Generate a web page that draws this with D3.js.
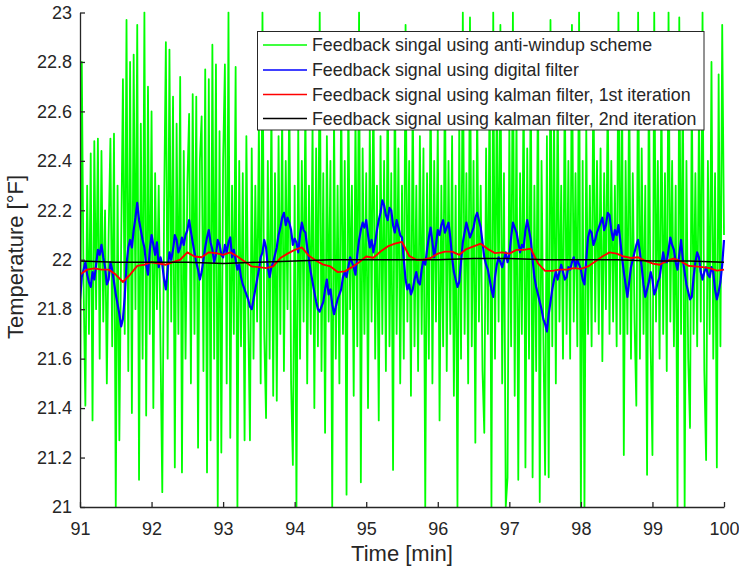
<!DOCTYPE html>
<html>
<head>
<meta charset="utf-8">
<script src="https://cdn.jsdelivr.net/npm/d3@7"></script>
<style>
  html, body { margin: 0; padding: 0; background: #fff; }
  svg { display: block; font-family: "Liberation Sans", Arial, Helvetica, sans-serif; }
</style>
</head>
<body>
<svg id="chart" width="739" height="571"></svg>
<script>
// Time axis and sampling
const tStart = 91, tEnd = 100;
const xTicks = [91, 92, 93, 94, 95, 96, 97, 98, 99, 100];
const yTicks = [21, 21.2, 21.4, 21.6, 21.8, 22, 22.2, 22.4, 22.6, 22.8, 23];
const yTickLabels = ["21", "21.2", "21.4", "21.6", "21.8", "22", "22.2", "22.4", "22.6", "22.8", "23"];

// Series names
const seriesNames = [
  "Feedback singal using anti-windup scheme",
  "Feedback signal using digital filter",
  "Feedback signal using kalman filter, 1st iteration",
  "Feedback signal using kalman filter, 2nd iteration"
];
const seriesColors = ["#00ff00", "#0000ff", "#ff0000", "#000000"];

// Anti-windup feedback, sampled every 0.025 min
const greenStep = 0.025;
const antiWindup = [
  21.24, 22.80, 21.90, 21.41, 22.30, 21.70, 22.43, 21.35, 22.48, 21.80,
  22.49, 21.60, 22.44, 21.75, 22.20, 21.50, 22.10, 22.49, 21.65, 22.51,
  21.00, 22.30, 21.27, 22.05, 22.73, 21.70, 22.97, 21.55, 22.80, 21.38,
  22.83, 21.80, 22.95, 21.11, 22.55, 21.60, 23.00, 21.37, 22.70, 21.70,
  22.60, 21.40, 22.35, 21.80, 22.30, 21.65, 21.06, 22.20, 22.88, 21.60,
  22.85, 21.75, 22.66, 21.16, 22.55, 21.70, 22.74, 21.14, 22.44, 21.60,
  22.30, 22.59, 21.50, 22.67, 21.70, 22.66, 21.24, 22.40, 22.58, 21.55,
  22.77, 21.14, 22.73, 21.27, 22.87, 21.60, 22.79, 21.00, 22.52, 21.22,
  22.40, 22.79, 21.50, 23.00, 21.28, 22.30, 21.70, 22.78, 21.00, 22.40,
  21.65, 22.35, 21.27, 22.50, 21.80, 21.27, 22.45, 21.60, 22.30, 21.75,
  22.55, 21.50, 23.00, 21.70, 21.36, 22.40, 21.60, 22.65, 21.45, 22.35,
  21.43, 22.50, 21.70, 22.60, 21.55, 22.40, 21.80, 22.70, 21.50, 21.17,
  22.30, 21.00, 22.55, 21.60, 22.40, 21.75, 22.65, 21.50, 22.30, 21.70,
  22.55, 21.40, 22.45, 21.65, 23.00, 21.55, 22.35, 21.30, 22.50, 21.75,
  22.40, 21.00, 22.60, 21.60, 22.30, 21.50, 22.70, 21.70, 22.40, 21.05,
  22.70, 21.80, 22.30, 21.45, 22.60, 21.65, 23.00, 21.10, 22.45, 21.70,
  22.35, 21.40, 22.55, 21.75, 22.75, 21.60, 22.30, 21.35, 22.50, 21.70,
  22.40, 21.55, 22.75, 21.65, 22.35, 21.15, 22.80, 21.70, 22.45, 21.50,
  22.30, 21.60, 22.95, 21.75, 22.40, 21.45, 22.70, 21.65, 22.30, 21.55,
  22.50, 21.70, 22.45, 21.00, 22.35, 21.60, 22.75, 21.50, 22.40, 21.75,
  22.55, 21.35, 22.30, 21.65, 22.80, 21.55, 22.40, 21.70, 22.50, 21.45,
  22.30, 21.00, 22.55, 21.60, 23.00, 21.70, 22.35, 21.50, 22.98, 21.65,
  22.40, 21.26, 22.65, 21.75, 22.30, 21.55, 21.30, 22.45, 21.70, 22.75,
  21.00, 23.00, 21.60, 22.70, 21.75, 22.95, 21.50, 22.35, 21.00, 21.12,
  22.55, 21.65, 23.00, 21.45, 22.60, 21.11, 22.35, 21.70, 22.75, 21.16,
  22.45, 21.60, 22.80, 21.12, 22.30, 21.55, 22.80, 21.02, 22.40, 21.70,
  21.13, 22.50, 21.12, 22.97, 21.65, 22.60, 21.50, 22.70, 21.75, 22.30,
  21.60, 22.75, 21.70, 22.40, 21.60, 22.95, 21.75, 22.35, 21.65, 23.00,
  21.00, 22.40, 21.00, 22.55, 21.70, 22.30, 21.65, 22.80, 21.75, 22.40,
  21.70, 22.45, 21.59, 22.35, 21.80, 22.70, 21.70, 22.40, 21.75, 22.30,
  21.65, 23.00, 21.70, 22.75, 21.21, 22.40, 21.70, 22.75, 21.60, 22.35,
  21.75, 21.41, 23.00, 21.60, 22.45, 21.70, 22.30, 21.13, 22.80, 21.65,
  21.21, 23.00, 21.75, 22.40, 21.60, 22.70, 21.70, 22.35, 21.55, 23.00,
  21.75, 22.40, 21.65, 22.30, 21.00, 22.98, 21.70, 22.75, 21.00, 22.40,
  21.60, 21.32, 22.70, 21.70, 22.35, 21.65, 22.60, 21.75, 23.00, 21.55,
  21.19, 22.40, 21.70, 22.80, 21.60, 22.35, 21.16, 22.75, 21.65, 22.95,
  22.10
];

// Digital filter output, sampled every 0.025 min
const blueStep = 0.025;
const digitalFilter = [
  21.84, 21.93, 21.96, 21.99, 21.94, 21.91, 21.89, 21.95, 21.92, 21.98,
  22.04, 22.02, 22.06, 22.01, 21.97, 21.90, 21.92, 21.99, 21.96, 21.91,
  21.86, 21.82, 21.78, 21.73, 21.76, 21.85, 21.98, 22.05, 22.08, 22.05,
  22.12, 22.17, 22.23, 22.16, 22.12, 22.08, 22.05, 21.98, 21.94, 22.04,
  22.10, 22.06, 22.02, 22.07, 21.97, 22.01, 21.98, 21.92, 21.88, 21.96,
  22.03, 22.00, 22.04, 22.10, 22.08, 22.03, 22.05, 22.09, 22.06, 22.10,
  22.12, 22.16, 22.115, 22.07, 22.03, 21.99, 21.96, 21.92, 21.95, 22.00,
  22.05, 22.09, 22.12, 22.07, 22.04, 21.99, 22.02, 22.08, 22.06, 22.02,
  22.01, 22.06, 22.03, 22.07, 22.09, 22.01, 22.04, 22.00, 21.96, 21.98,
  21.93, 21.90, 21.88, 21.86, 21.84, 21.81, 21.80, 21.84, 21.88, 21.92,
  21.96, 22.01, 22.03, 22.08, 22.05, 21.97, 21.93, 21.97, 21.99, 22.02,
  22.05, 22.10, 22.13, 22.17, 22.19, 22.14, 22.17, 22.15, 22.12, 22.06,
  22.085, 22.07, 22.03, 22.10, 22.15, 22.12, 22.11, 22.05, 22.00, 21.95,
  21.91, 21.87, 21.83, 21.80, 21.79, 21.81, 21.83, 21.88, 21.92, 21.86,
  21.88, 21.82, 21.78, 21.81, 21.84, 21.86, 21.88, 21.93, 21.95, 21.93,
  21.97, 22.01, 21.99, 21.97, 21.94, 22.02, 22.08, 22.12, 22.15, 22.13,
  22.16, 22.10, 22.05, 22.08, 22.03, 22.07, 22.12, 22.16, 22.19, 22.24,
  22.22, 22.18, 22.16, 22.21, 22.20, 22.14, 22.11, 22.16, 22.13, 22.10,
  22.09, 22.00, 21.92, 21.88, 21.90, 21.86, 21.88, 21.92, 21.95, 21.91,
  21.90, 21.96, 22.00, 21.98, 22.04, 22.09, 22.13, 22.07, 22.01, 22.06,
  22.12, 22.10, 22.14, 22.16, 22.11, 22.13, 22.15, 22.09, 22.01, 21.95,
  21.92, 21.89, 21.91, 21.99, 22.07, 22.11, 22.15, 22.12, 22.09, 22.11,
  22.13, 22.17, 22.19, 22.16, 22.13, 22.07, 22.01, 21.98, 21.96, 21.92,
  21.88, 21.85, 21.93, 21.98, 22.01, 21.99, 21.97, 22.00, 22.03, 21.99,
  22.02, 22.09, 22.15, 22.13, 22.11, 22.07, 22.03, 22.06, 22.05, 22.12,
  22.16, 22.12, 22.08, 22.00, 21.93, 21.89, 21.86, 21.83, 21.80, 21.76,
  21.74, 21.71, 21.78, 21.83, 21.88, 21.92, 21.95, 21.92, 21.95, 21.98,
  21.95, 21.92, 21.93, 21.97, 21.96, 21.99, 22.01, 21.97, 22.00, 21.98,
  21.96, 21.92, 21.90, 22.00, 22.09, 22.12, 22.11, 22.06, 22.08, 22.11,
  22.13, 22.15, 22.17, 22.12, 22.14, 22.19, 22.18, 22.12, 22.08, 22.12,
  22.10, 22.14, 22.08, 22.01, 21.95, 21.90, 21.85, 21.91, 21.97, 22.00,
  22.03, 22.06, 22.08, 22.03, 21.97, 21.90, 21.85, 21.88, 21.91, 21.95,
  21.92, 21.86, 21.88, 21.91, 21.93, 21.98, 22.03, 21.99, 21.99, 22.04,
  22.09, 22.06, 22.04, 21.99, 21.96, 22.02, 22.08, 22.00, 21.95, 21.90,
  21.87, 21.84, 21.85, 21.93, 21.99, 22.03, 22.01, 21.95, 21.92, 21.95,
  21.97, 21.94, 21.93, 21.97, 21.95, 21.88, 21.84, 21.87, 21.91, 21.98,
  22.08
];

// Kalman filter, first iteration, sampled every 0.1 min
const redStep = 0.1;
const kalman1 = [
  21.94, 21.96, 21.965, 21.96, 21.96, 21.94, 21.91, 21.94, 21.975, 21.98,
  21.99, 21.985, 21.98, 21.99, 22.00, 22.03, 22.013, 22.01, 22.03, 22.027,
  22.02, 22.03, 22.013, 21.993, 21.973, 21.97, 21.966, 21.973, 22.007, 22.025,
  22.04, 22.05, 22.016, 21.996, 21.98, 21.973, 21.95, 21.953, 21.97, 21.99,
  22.013, 22.008, 22.033, 22.054, 22.065, 22.072, 22.016, 22.00, 22.00, 22.007,
  22.025, 22.033, 22.033, 22.02, 22.043, 22.054, 22.065, 22.043, 22.027, 22.03,
  22.025, 22.04, 22.04, 22.045, 21.985, 21.955, 21.955, 21.96, 21.96, 21.966,
  21.963, 21.973, 21.993, 22.013, 22.03, 22.025, 22.013, 22.007, 22.01, 21.996,
  21.985, 21.98, 21.995, 22.005, 21.993, 21.976, 21.973, 21.97, 21.966, 21.956,
  21.96
];

// Kalman filter, second iteration, sampled every 0.5 min
const blackStep = 0.5;
const kalman2 = [
  21.995, 21.99, 21.99, 21.99, 21.985, 21.99, 21.995, 22.0, 22.0, 22.0,
  22.0, 22.005, 22.005, 22.0, 22.0, 22.0, 21.995, 21.995, 21.99
];

const toPoints = (vals, step) => vals.map((v, i) => ({ t: tStart + i * step, v }));
const series = [
  toPoints(antiWindup, greenStep),
  toPoints(digitalFilter, blueStep),
  toPoints(kalman1, redStep),
  toPoints(kalman2, blackStep)
];
const lineWidths = [1.8, 2.2, 1.9, 1.4];

const svg = d3.select("#chart");
const plotLeft = 80, plotRight = 724, plotTop = 12.5, plotBottom = 507;
const x = d3.scaleLinear().domain([tStart, tEnd]).range([plotLeft, plotRight]);
const y = d3.scaleLinear().domain([21, 23]).range([plotBottom, plotTop]);
const axisColor = "#262626";

svg.append("defs").append("clipPath").attr("id", "plotClip")
  .append("rect").attr("x", plotLeft).attr("y", plotTop - 1)
  .attr("width", plotRight - plotLeft + 1).attr("height", plotBottom - plotTop + 1);

const plot = svg.append("g").attr("clip-path", "url(#plotClip)");
const line = d3.line().x(d => x(d.t)).y(d => y(d.v));
series.forEach((s, i) => {
  plot.append("path")
    .datum(s)
    .attr("d", line)
    .attr("fill", "none")
    .attr("stroke", seriesColors[i])
    .attr("stroke-width", lineWidths[i])
    .attr("stroke-linejoin", "round");
});

// Axes: inward ticks, left and bottom only
const yAxis = d3.axisLeft(y).tickValues(yTicks)
  .tickFormat((d, i) => yTickLabels[i])
  .tickSizeInner(-5).tickSizeOuter(0).tickPadding(8);
const xAxis = d3.axisBottom(x).tickValues(xTicks)
  .tickFormat(d => String(d))
  .tickSizeInner(-5).tickSizeOuter(0).tickPadding(15);

const gy = svg.append("g").attr("transform", `translate(${plotLeft},0)`).call(yAxis);
const gx = svg.append("g").attr("transform", `translate(0,${plotBottom})`).call(xAxis);
[gx, gy].forEach(g => {
  g.select(".domain").attr("stroke", axisColor).attr("stroke-width", 1.3);
  g.selectAll(".tick line").attr("stroke", axisColor).attr("stroke-width", 1.3);
  g.selectAll(".tick text").attr("fill", axisColor)
    .style("font-size", "18px").style("font-family", "'Liberation Sans', Arial, sans-serif");
});

// Axis labels
svg.append("text")
  .attr("x", (plotLeft + plotRight) / 2).attr("y", 561)
  .attr("text-anchor", "middle").attr("fill", axisColor)
  .style("font-size", "22px")
  .text("Time [min]");
svg.append("text")
  .attr("transform", "translate(23,257) rotate(-90)")
  .attr("text-anchor", "middle").attr("fill", axisColor)
  .style("font-size", "22px")
  .text("Temperature [°F]");

// Legend
const legend = svg.append("g");
legend.append("rect")
  .attr("x", 257.5).attr("y", 31.5).attr("width", 446.5).attr("height", 98.5)
  .attr("fill", "#fff").attr("stroke", axisColor).attr("stroke-width", 1);
const rowY = [45, 70, 94.5, 118.5];
seriesNames.forEach((name, i) => {
  legend.append("line")
    .attr("x1", 263).attr("x2", 307).attr("y1", rowY[i]).attr("y2", rowY[i])
    .attr("stroke", seriesColors[i]).attr("stroke-width", 1.4);
  legend.append("text")
    .attr("x", 312).attr("y", rowY[i]).attr("dy", "0.35em")
    .attr("fill", axisColor).style("font-size", "17.8px")
    .text(name);
});
</script>
</body>
</html>
